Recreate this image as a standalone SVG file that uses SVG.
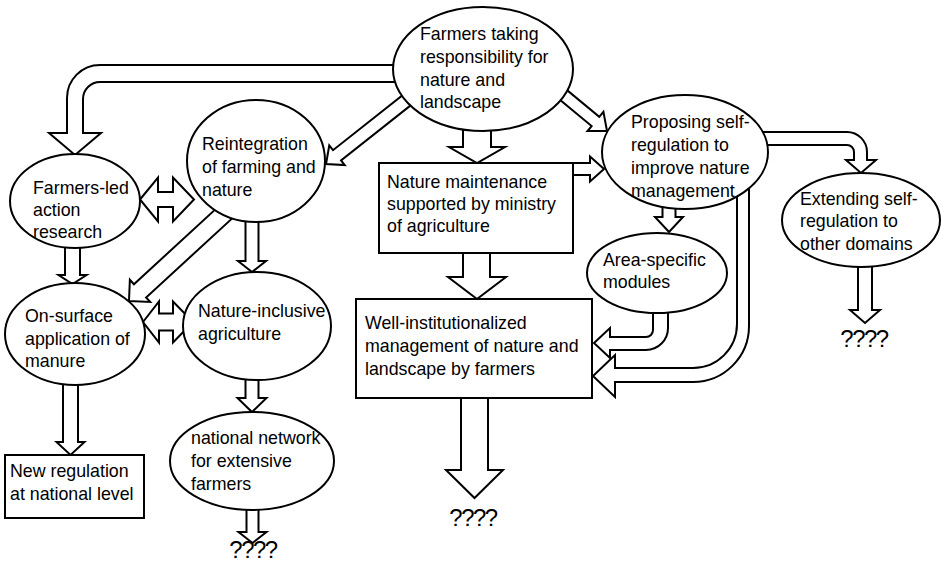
<svg xmlns="http://www.w3.org/2000/svg" width="941" height="564" viewBox="0 0 941 564">
<style>
.n{fill:#fff;stroke:#000;stroke-width:2}
#connectors path{fill:#fff;stroke:#000;stroke-width:2;stroke-linejoin:miter}
text{font-family:"Liberation Sans",Arial,sans-serif;font-size:17.8px;fill:#000}
.q{font-size:24px;letter-spacing:-1.5px;text-anchor:middle}
</style>
<rect width="941" height="564" fill="#fff"/>
<g id="connectors">
  <!-- top -> Farmers-led (curved) -->
  <path d="M405 65 H100 A33 33 0 0 0 67 98 V133 H49 L75 155 L101 133 H83 V99 A17 17 0 0 1 100 82 H405 Z"/>
  <!-- top -> Reintegration -->
  <path transform="translate(412 96) rotate(141.67)" d="M0 -6.5 H95.6 V-12.5 L109.6 0 L95.6 12.5 V6.5 H0 Z"/>
  <!-- top -> Nature maintenance -->
  <path d="M463 122 V147 H449 L477 163 L505 147 H491 V122 Z"/>
  <!-- top -> Proposing -->
  <path transform="translate(555 88) rotate(39.59)" d="M0 -6 H52.5 V-12.5 L67.5 0 L52.5 12.5 V6 H0 Z"/>
  <!-- Nature maintenance -> Proposing -->
  <path d="M568 163 H590 V156.5 L604 169 L590 181.5 V175 H568 Z"/>
  <!-- Nature maintenance -> Well-institutionalized -->
  <path d="M463 248 V277 H448 L477 299 L506 277 H490 V248 Z"/>
  <!-- Well-institutionalized -> ???? -->
  <path d="M461 395 V470 H446 L474.5 498 L503 470 H488 V395 Z"/>
  <!-- Proposing -> Extending -->
  <path d="M758 132 H847 A20 20 0 0 1 867 152 V160 H876 L861 173 L846 160 H854 V152 A7 7 0 0 0 847 145 H758 Z"/>
  <!-- Extending -> ???? -->
  <path d="M858 260 V310 H850 L865 323 L880 310 H872 V260 Z"/>
  <!-- Proposing -> Area-specific -->
  <path d="M662.5 200 V217 H655 L669 232 L683 217 H675.5 V200 Z"/>
  <!-- Area-specific -> Well-institutionalized -->
  <path d="M653 305 V330 A7 7 0 0 1 646 337 H610 V328 L594 343 L610 358 V350 H646 A22 22 0 0 0 668 328 V305 Z"/>
  <!-- Proposing -> Well-institutionalized -->
  <path d="M737 180 V324 A44 44 0 0 1 693 368 H615 V355 L593 376 L615 397 V382 H693 A56 56 0 0 0 749 326 V180 Z"/>
  <!-- Farmers-led <-> Reintegration -->
  <path d="M140 199.5 L158 177.5 V192 H173 V177.5 L194 199.5 L173 221.5 V207 H158 V221.5 Z"/>
  <!-- Reintegration -> On-surface -->
  <path transform="translate(228 210) rotate(137.41)" d="M0 -9 H119.5 V-15 L134.5 0 L119.5 15 V9 H0 Z"/>
  <!-- Reintegration -> Nature-inclusive -->
  <path d="M245.5 215 V261 H238 L252 272 L266 261 H258.5 V215 Z"/>
  <!-- Farmers-led -> On-surface -->
  <path d="M65 242 V275 H58.5 L72.5 284 L86.5 275 H80 V242 Z"/>
  <!-- On-surface <-> Nature-inclusive -->
  <path d="M143 322 L159 301.5 V313.5 H173 V301.5 L193 322 L173 342.5 V330.5 H159 V342.5 Z"/>
  <!-- On-surface -> New regulation -->
  <path d="M63 380 V442 H56.5 L70.5 455 L84.5 442 H78 V380 Z"/>
  <!-- Nature-inclusive -> national network -->
  <path d="M245.5 375 V398 H237.5 L252 412 L266.5 398 H258.5 V375 Z"/>
  <!-- national network -> ???? -->
  <path d="M246.5 505 V532 H238.5 L252.5 543 L266.5 532 H258.5 V505 Z"/>
</g>
<g id="n-farmers-taking">
  <ellipse class="n" cx="483" cy="69" rx="90" ry="62"/>
  <text x="420" y="40">Farmers taking</text>
  <text x="420" y="63">responsibility for</text>
  <text x="420" y="86">nature and</text>
  <text x="420" y="108">landscape</text>
</g>
<g id="n-proposing">
  <ellipse class="n" cx="685" cy="152" rx="83" ry="57"/>
  <text x="631" y="128">Proposing self-</text>
  <text x="631" y="151">regulation to</text>
  <text x="631" y="174">improve nature</text>
  <text x="631" y="197">management</text>
</g>
<g id="n-extending">
  <ellipse class="n" cx="861" cy="220" rx="79" ry="47"/>
  <text x="800" y="205">Extending self-</text>
  <text x="800" y="227">regulation to</text>
  <text x="800" y="250">other domains</text>
</g>
<g id="n-reintegration">
  <ellipse class="n" cx="256" cy="161" rx="69" ry="61"/>
  <text x="202" y="150">Reintegration</text>
  <text x="202" y="173">of farming and</text>
  <text x="202" y="196">nature</text>
</g>
<g id="n-farmers-led">
  <ellipse class="n" cx="75" cy="201" rx="65" ry="47"/>
  <text x="33" y="194">Farmers-led</text>
  <text x="33" y="216">action</text>
  <text x="33" y="238">research</text>
</g>
<g id="n-on-surface">
  <ellipse class="n" cx="75" cy="334" rx="70" ry="51"/>
  <text x="25" y="322">On-surface</text>
  <text x="25" y="345">application of</text>
  <text x="25" y="367">manure</text>
</g>
<g id="n-nature-inclusive">
  <ellipse class="n" cx="257" cy="326" rx="74" ry="54"/>
  <text x="198" y="317">Nature-inclusive</text>
  <text x="198" y="340">agriculture</text>
</g>
<g id="n-national-network">
  <ellipse class="n" cx="252" cy="461" rx="82" ry="49"/>
  <text x="191" y="444">national network</text>
  <text x="191" y="467">for extensive</text>
  <text x="191" y="490">farmers</text>
</g>
<g id="n-new-regulation">
  <rect class="n" x="5" y="455" width="139" height="63"/>
  <text x="10" y="477">New regulation</text>
  <text x="10" y="500">at national level</text>
</g>
<g id="n-nature-maintenance">
  <rect class="n" x="379" y="163" width="194" height="90"/>
  <text x="387" y="188">Nature maintenance</text>
  <text x="387" y="210">supported by ministry</text>
  <text x="387" y="232">of agriculture</text>
</g>
<g id="n-area-specific">
  <ellipse class="n" cx="657" cy="273" rx="70" ry="40"/>
  <text x="603" y="266">Area-specific</text>
  <text x="603" y="288">modules</text>
</g>
<g id="n-well-institutionalized">
  <rect class="n" x="356" y="299" width="236" height="99"/>
  <text x="365" y="329">Well-institutionalized</text>
  <text x="365" y="352">management of nature and</text>
  <text x="365" y="375">landscape by farmers</text>
</g>
<g id="end-1"><text class="q" x="253" y="558">????</text></g>
<g id="end-2"><text class="q" x="473" y="526">????</text></g>
<g id="end-3"><text class="q" x="864" y="347">????</text></g>
</svg>
